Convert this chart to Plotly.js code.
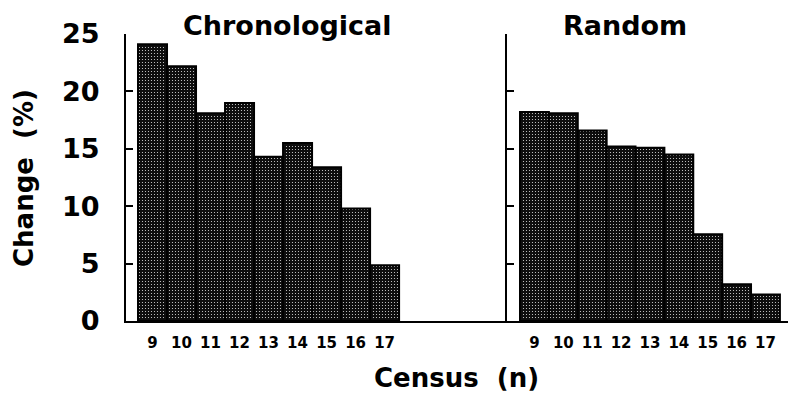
<!DOCTYPE html>
<html>
<head>
<meta charset="utf-8">
<script src="https://cdn.plot.ly/plotly-3.0.1.min.js"></script>
<style>html,body{margin:0;padding:0;background:#fff;}</style>
</head>
<body>
<div id="chart" style="width:788px;height:394px;"></div>
<script>
const census = [9, 10, 11, 12, 13, 14, 15, 16, 17];
const censusLabels = ["9", "10", "11", "12", "13", "14", "15", "16", "17"];
const chronological = [24.1, 22.2, 18.1, 19.0, 14.3, 15.5, 13.4, 9.8, 4.85];
const randomOrder = [18.2, 18.1, 16.6, 15.2, 15.1, 14.5, 7.55, 3.2, 2.3];
const yTicks = [0, 5, 10, 15, 20, 25];

const FONT = "DejaVu Sans";
const barMarker = {
  color: "#0d0d0d",
  line: {color: "#000", width: 2},
  pattern: {shape: ".", fgcolor: "#d8d8d8", bgcolor: "#0d0d0d", size: 3, solidity: 0.12, fillmode: "replace"}
};

const traces = [
  {type: "bar", x: census, y: chronological, width: 1, xaxis: "x", yaxis: "y", marker: barMarker, hoverinfo: "skip"},
  {type: "bar", x: census, y: randomOrder, width: 1, xaxis: "x2", yaxis: "y2", marker: barMarker, hoverinfo: "skip"}
];

const W = 788, H = 394, L = 126, T = 34, B = 73;
const pw = W - L;
const splitPx = 507;
const split = (splitPx - L) / pw;

const xCommon = {
  tickvals: census, ticktext: censusLabels, ticks: "", showgrid: false, zeroline: false,
  showline: true, linecolor: "#000", linewidth: 2,
  tickfont: {family: FONT, size: 15, color: "#000", weight: "bold"},
  ticklabelstandoff: 7, fixedrange: true
};
const yCommon = {
  range: [0, 25], tickvals: yTicks, ticks: "inside", ticklen: 7, tickwidth: 2, tickcolor: "#000",
  showgrid: false, zeroline: false, showline: true, linecolor: "#000", linewidth: 2, fixedrange: true
};

const layout = {
  width: W, height: H,
  margin: {l: L, r: 0, t: T, b: B},
  paper_bgcolor: "#fff", plot_bgcolor: "#fff",
  showlegend: false, bargap: 0,
  xaxis: Object.assign({}, xCommon, {domain: [0, split], range: [8.086, 21.22], anchor: "y"}),
  xaxis2: Object.assign({}, xCommon, {domain: [split, 1], range: [8.05, 17.78], anchor: "y2"}),
  yaxis: Object.assign({}, yCommon, {domain: [0, 1], anchor: "x",
    tickfont: {family: FONT, size: 27, color: "#000", weight: "bold"}, ticklabelstandoff: 19}),
  yaxis2: Object.assign({}, yCommon, {domain: [0, 1], anchor: "x2", showticklabels: false}),
  annotations: [
    {text: "Chronological", xref: "paper", yref: "paper", x: (287 - L) / pw, y: (321 - 25) / 287,
     xanchor: "center", yanchor: "middle", showarrow: false,
     font: {family: FONT, size: 27, color: "#000", weight: "bold"}},
    {text: "Random", xref: "paper", yref: "paper", x: (625 - L) / pw, y: (321 - 25) / 287,
     xanchor: "center", yanchor: "middle", showarrow: false,
     font: {family: FONT, size: 27, color: "#000", weight: "bold"}},
    {text: "Change  (%)", xref: "paper", yref: "paper", x: -(L - 24) / pw, y: (321 - 178) / 287,
     xanchor: "center", yanchor: "middle", textangle: -90, showarrow: false,
     font: {family: FONT, size: 26, color: "#000", weight: "bold"}},
    {text: "Census  (n)", xref: "paper", yref: "paper", x: (456 - L) / pw, y: (321 - 378) / 287,
     xanchor: "center", yanchor: "middle", showarrow: false,
     font: {family: FONT, size: 26, color: "#000", weight: "bold"}}
  ]
};

Plotly.newPlot("chart", traces, layout, {staticPlot: true, displayModeBar: false});
</script>
</body>
</html>
